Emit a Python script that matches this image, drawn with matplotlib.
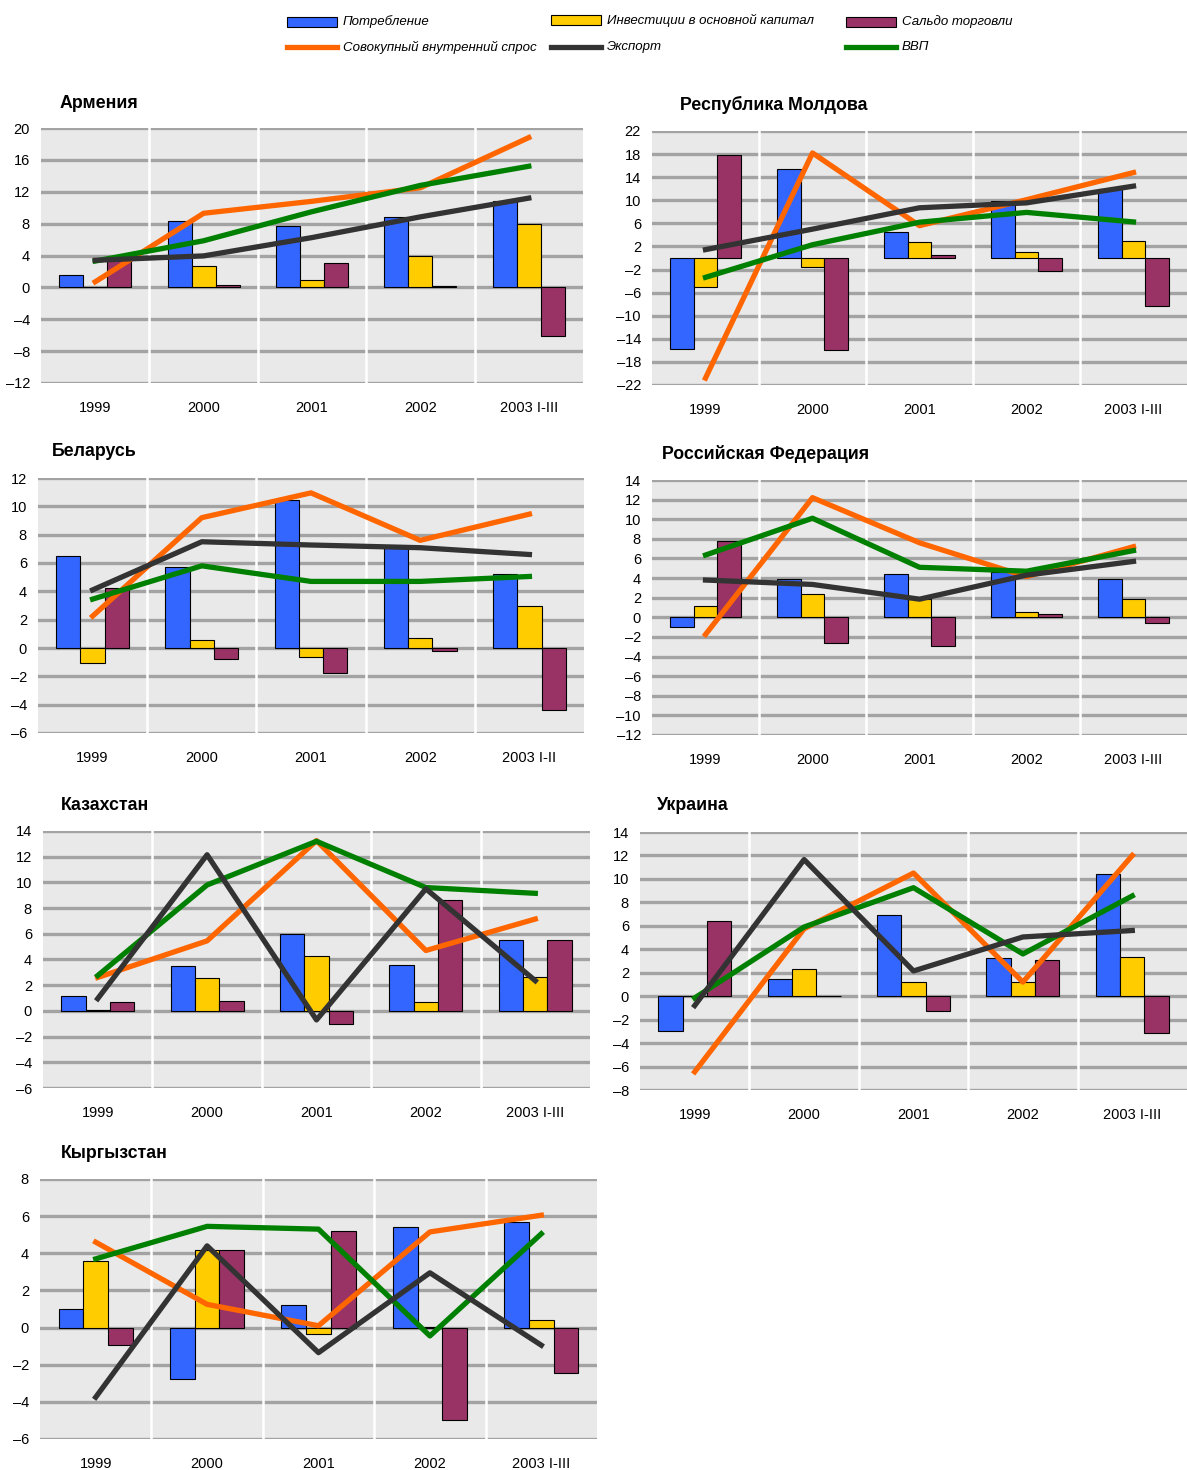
import numpy as np
import matplotlib.pyplot as plt
from matplotlib.patches import Rectangle
from matplotlib.lines import Line2D

# categories
years = ['1999', '2000', '2001', '2002', '2003 I-III']
years_by = ['1999', '2000', '2001', '2002', '2003 I-II']

# Армения
arm_cons = [1.55, 8.35, 7.75, 8.85, 10.8]
arm_inv = [0.0, 2.65, 0.9, 3.95, 7.9]
arm_trade = [3.4, 0.35, 3.05, 0.15, -6.1]
arm_demand = [0.7, 9.3, 10.8, 12.5, 18.8]
arm_export = [3.4, 3.95, 6.25, 8.85, 11.2]
arm_gdp = [3.3, 5.85, 9.5, 12.8, 15.2]

# Республика Молдова
mol_cons = [-15.8, 15.5, 4.5, 9.9, 11.9]
mol_inv = [-5.0, -1.55, 2.7, 1.0, 2.9]
mol_trade = [17.8, -16.0, 0.5, -2.2, -8.4]
mol_demand = [-20.8, 18.2, 5.6, 10.1, 14.8]
mol_export = [1.45, 5.0, 8.7, 9.55, 12.45]
mol_gdp = [-3.35, 2.3, 6.2, 7.9, 6.25]

# Беларусь
bel_cons = [6.5, 5.75, 10.45, 7.1, 5.25]
bel_inv = [-1.05, 0.6, -0.6, 0.72, 2.97]
bel_trade = [4.25, -0.8, -1.75, -0.2, -4.35]
bel_demand = [2.25, 9.2, 10.95, 7.6, 9.45]
bel_export = [4.1, 7.5, 7.27, 7.08, 6.6]
bel_gdp = [3.45, 5.8, 4.7, 4.7, 5.05]

# Российская Федерация
rus_cons = [-0.95, 3.95, 4.4, 4.6, 3.95]
rus_inv = [1.15, 2.4, 1.9, 0.55, 1.85]
rus_trade = [7.8, -2.65, -2.9, 0.35, -0.6]
rus_demand = [-1.75, 12.2, 7.6, 4.15, 7.2]
rus_export = [3.8, 3.35, 1.85, 4.3, 5.7]
rus_gdp = [6.35, 10.1, 5.1, 4.7, 6.8]

# Казахстан
kaz_cons = [1.15, 3.5, 6.0, 3.55, 5.55]
kaz_inv = [0.05, 2.55, 4.3, 0.72, 2.6]
kaz_trade = [0.68, 0.78, -1.05, 8.65, 5.55]
kaz_demand = [2.6, 5.45, 13.25, 4.7, 7.15]
kaz_export = [0.95, 12.15, -0.7, 9.5, 2.35]
kaz_gdp = [2.75, 9.8, 13.2, 9.6, 9.15]

# Украина
ukr_cons = [-3.0, 1.5, 6.9, 3.25, 10.4]
ukr_inv = [0.0, 2.35, 1.2, 1.2, 3.35]
ukr_trade = [6.4, 0.02, -1.3, 3.1, -3.15]
ukr_demand = [-6.45, 5.75, 10.5, 1.2, 12.0]
ukr_export = [-0.8, 11.65, 2.15, 5.05, 5.6]
ukr_gdp = [-0.15, 5.9, 9.25, 3.6, 8.55]

# Кыргызстан
kyr_cons = [1.0, -2.75, 1.2, 5.4, 5.7]
kyr_inv = [3.6, 4.2, -0.35, 0.02, 0.4]
kyr_trade = [-0.95, 4.2, 5.2, -4.95, -2.45]
kyr_demand = [4.6, 1.25, 0.1, 5.15, 6.05]
kyr_export = [-3.75, 4.4, -1.35, 2.95, -0.95]
kyr_gdp = [3.7, 5.45, 5.3, -0.45, 5.05]

C_CONS = '#3366ff'
C_INV = '#ffcc00'
C_TRADE = '#993366'
C_DEM = '#ff6600'
C_EXP = '#333333'
C_GDP = '#008000'

NARROW = ['Liberation Sans Narrow', 'Liberation Sans', 'DejaVu Sans']

W, H = 1187, 1470
fig = plt.figure(figsize=(W / 100, H / 100), dpi=100)


def fmt(v):
    return ('–' + str(-v)) if v < 0 else str(v)


def panel(box, title, title_pos, labels, yticks, cons, inv, trade, dem, exp, gdp):
    l, t, r, b = box
    ax = fig.add_axes([l / W, 1 - b / H, (r - l) / W, (b - t) / H])
    ax.set_facecolor('#e9e9e9')
    x = np.arange(len(labels))
    w = 0.222
    for yv in yticks:
        ax.axhline(yv, color='#a3a3a3', lw=2.4, zorder=1)
    for xv in x[:-1] + 0.5:
        ax.axvline(xv, color='white', lw=1.8, zorder=2)
    ax.bar(x - w, cons, w, color=C_CONS, edgecolor='black', lw=0.8, zorder=3)
    ax.bar(x, inv, w, color=C_INV, edgecolor='black', lw=0.8, zorder=3)
    ax.bar(x + w, trade, w, color=C_TRADE, edgecolor='black', lw=0.8, zorder=3)
    # order of drawing: demand under GDP under export
    ax.plot(x, dem, color=C_DEM, lw=3.8, zorder=4)
    ax.plot(x, gdp, color=C_GDP, lw=3.8, zorder=5)
    ax.plot(x, exp, color=C_EXP, lw=3.8, zorder=6)
    ax.set_xlim(-0.5, len(labels) - 0.5)
    ax.set_ylim(yticks[-1], yticks[0])
    ax.set_yticks(yticks, [fmt(v) for v in yticks], family=NARROW, fontsize=10.5)
    ax.set_xticks(x, labels, family=NARROW, fontsize=10.5)
    ax.tick_params(axis='y', length=0, pad=8)
    ax.tick_params(axis='x', length=0, pad=13)
    for s in ax.spines.values():
        s.set_visible(False)
    fig.text(title_pos[0] / W, 1 - title_pos[1] / H, title, family=NARROW,
             fontsize=12.8, fontweight='bold', va='center', ha='left')
    return ax


panel((41, 128, 583, 383), 'Армения', (60, 103), years,
      [20, 16, 12, 8, 4, 0, -4, -8, -12],
      arm_cons, arm_inv, arm_trade, arm_demand, arm_export, arm_gdp)
panel((652, 131, 1187, 385), 'Республика Молдова', (680, 105), years,
      [22, 18, 14, 10, 6, 2, -2, -6, -10, -14, -18, -22],
      mol_cons, mol_inv, mol_trade, mol_demand, mol_export, mol_gdp)
panel((38, 478, 584, 733), 'Беларусь', (52, 452), years_by,
      [12, 10, 8, 6, 4, 2, 0, -2, -4, -6],
      bel_cons, bel_inv, bel_trade, bel_demand, bel_export, bel_gdp)
panel((652, 480, 1187, 735), 'Российская Федерация', (662, 454), years,
      [14, 12, 10, 8, 6, 4, 2, 0, -2, -4, -6, -8, -10, -12],
      rus_cons, rus_inv, rus_trade, rus_demand, rus_export, rus_gdp)
panel((43, 831, 590, 1088), 'Казахстан', (61, 805), years,
      [14, 12, 10, 8, 6, 4, 2, 0, -2, -4, -6],
      kaz_cons, kaz_inv, kaz_trade, kaz_demand, kaz_export, kaz_gdp)
panel((640, 832, 1187, 1090), 'Украина', (657, 806), years,
      [14, 12, 10, 8, 6, 4, 2, 0, -2, -4, -6, -8],
      ukr_cons, ukr_inv, ukr_trade, ukr_demand, ukr_export, ukr_gdp)
panel((40, 1179, 597, 1439), 'Кыргызстан', (61, 1153), years,
      [8, 6, 4, 2, 0, -2, -4, -6],
      kyr_cons, kyr_inv, kyr_trade, kyr_demand, kyr_export, kyr_gdp)

# legend, drawn by hand in figure pixels
legend_items = [
    (287, 22, 'bar', C_CONS, 'Потребление'),
    (551, 20, 'bar', C_INV, 'Инвестиции в основной капитал'),
    (846, 22, 'bar', C_TRADE, 'Сальдо торговли'),
    (287, 47, 'line', C_DEM, 'Совокупный внутренний спрос'),
    (551, 47, 'line', C_EXP, 'Экспорт'),
    (846, 47, 'line', C_GDP, 'ВВП'),
]
for lx, ly, kind, col, txt in legend_items:
    if kind == 'bar':
        fig.add_artist(Rectangle((lx / W, 1 - (ly + 5) / H), 50 / W, 10 / H,
                                 facecolor=col, edgecolor='black', lw=0.8,
                                 transform=fig.transFigure))
    else:
        fig.add_artist(Line2D([lx / W, (lx + 50) / W], [1 - ly / H, 1 - ly / H],
                              color=col, lw=3.8, transform=fig.transFigure))
    fig.text((lx + 56) / W, 1 - ly / H, txt, family=NARROW, fontsize=9.5,
             style='italic', va='center', ha='left')

fig.savefig('out.png', dpi=100)
